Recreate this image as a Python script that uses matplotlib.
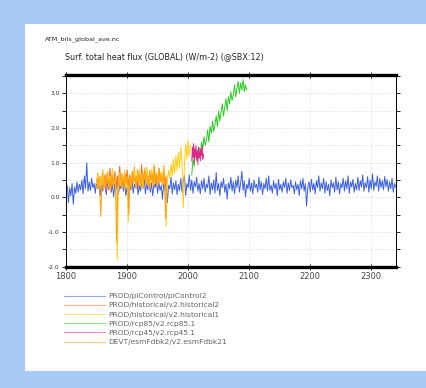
import matplotlib
matplotlib.use("Agg")
import matplotlib.pyplot as plt
from matplotlib.patches import Rectangle
from matplotlib.ticker import MultipleLocator
import numpy as np

# piControl, every 2 years 1800-2340
ctl_years = np.arange(1800, 2341, 2)
ctl_vals = [
    0.10, 0.35, -0.15, 0.28, 0.05, 0.40, -0.20, 0.30, 0.12, 0.45,
    0.15, 0.38, 0.22, 0.50, 0.10, 0.62, 0.25, 1.00, 0.18, 0.45,
    0.20, 0.55, 0.28, 0.40, 0.12, 0.48, 0.25, 0.35, 0.05, 0.42,
    0.18, 0.50, 0.30, 0.08, 0.45, 0.22, 0.55, 0.15, 0.38, 0.02,
    0.40, 0.20, 0.52, 0.10, 0.35, 0.25, 0.60, 0.18, 0.42, 0.05,
    0.30, -0.10, 0.45, 0.22, 0.55, 0.12, 0.38, 0.28, 0.50, 0.08,
    0.35, 0.18, 0.48, 0.25, 0.60, 0.10, 0.40, 0.22, 0.52, 0.15,
    0.42, 0.05, 0.38, 0.28, 0.55, 0.12, 0.45, 0.20, 0.35, -0.05,
    0.40, 0.18, 0.50, -0.15, 0.35, 0.25, 0.58, 0.10, 0.42, 0.22,
    0.48, 0.08, 0.38, 0.20, 0.55, 0.15, 0.45, 0.62, 0.05, 0.40,
    0.28, 0.65, 0.20, 0.50, 0.12, 0.45, 0.30, 0.58, 0.18, 0.40,
    0.10, 0.48, 0.25, 0.55, 0.15, 0.38, 0.28, 0.62, 0.08, 0.42,
    0.22, 0.50, 0.12, 0.72, 0.20, 0.40, 0.05, 0.45, 0.28, 0.55,
    0.15, 0.38, -0.05, 0.42, 0.25, 0.58, 0.18, 0.45, 0.10, 0.50,
    0.28, 0.62, 0.15, 0.40, 0.75, 0.20, 0.48, 0.02, 0.38, 0.25,
    0.55, 0.18, 0.42, 0.10, 0.50, 0.28, 0.38, 0.15, 0.58, 0.22,
    0.45, 0.08, 0.40, 0.25, 0.55, 0.18, 0.62, 0.20, 0.35, 0.12,
    0.48, 0.25, 0.40, 0.05, 0.52, 0.22, 0.38, 0.15, 0.45, 0.28,
    0.55, 0.12, 0.42, 0.20, 0.50, 0.28, 0.35, 0.10, 0.45, 0.22,
    0.38, 0.05, 0.48, 0.25, 0.55, 0.18, 0.40, -0.25, 0.30, 0.45,
    0.15, 0.52, 0.22, 0.40, 0.10, 0.48, 0.28, 0.62, 0.18, 0.42,
    0.25, 0.55, 0.12, 0.45, 0.20, 0.38, 0.05, 0.50, 0.28, 0.42,
    0.15, 0.58, 0.22, 0.45, 0.10, 0.40, 0.28, 0.55, 0.18, 0.48,
    0.25, 0.62, 0.12, 0.45, 0.30, 0.52, 0.15, 0.40, 0.22, 0.58,
    0.20, 0.48, 0.30, 0.65, 0.18, 0.42, 0.28, 0.60, 0.15, 0.50,
    0.25, 0.68, 0.20, 0.45, 0.32, 0.62, 0.18, 0.55, 0.28, 0.48,
    0.22, 0.60, 0.30, 0.52, 0.18, 0.45, 0.25, 0.55, 0.15, 0.40,
    0.30,
]

hist2_years = np.arange(1850, 1966, 2)
hist2_vals = [
    0.35, 0.70, 0.25, 0.60, 0.40, 0.80, 0.30, 0.65, 0.20, 0.55,
    0.45, 0.85, 0.30, 0.60, 0.38, 0.75, 0.25, 0.62, 0.48, 0.90,
    0.35, 0.68, 0.28, 0.58, 0.42, 0.80, 0.32, 0.65, 0.22, 0.70,
    0.45, 0.88, 0.35, 0.60, 0.28, 0.75, 0.40, 0.95, 0.30, 0.68,
    0.48, 0.82, 0.35, 0.62, 0.25, 0.78, 0.42, 0.90, 0.38, 0.65,
    0.30, 0.85, 0.45, 0.70, 0.35, 0.92, 0.40, 0.62,
]

hist1_years = np.arange(1850, 2006, 2)
hist1_vals = [
    0.40, 0.70, 0.25, 0.60, 0.35, 0.80, 0.30, 0.55, 0.45, 0.75,
    0.28, 0.62, 0.40, 0.85, 0.35, 0.58, 0.30, -1.80, 0.45, 0.70,
    0.32, 0.65, 0.40, 0.78, 0.28, 0.60, -0.70, 0.50, 0.35, 0.72,
    0.42, 0.85, 0.30, 0.62, 0.45, 0.80, 0.35, 0.68, 0.25, 0.75,
    0.48, 0.88, 0.38, 0.65, 0.30, 0.82, 0.45, 0.95, 0.40, 0.70,
    0.35, 0.80, 0.48, 0.72, 0.38, 0.90, 0.42, -0.85, 0.50, 0.78,
    0.55, 0.95, 0.62, 1.10, 0.70, 1.20, 0.78, 1.30, 0.85, 1.45,
    1.00, -0.30, 0.95, 1.55, 1.10, 1.65, 1.20, 1.50,
]

rcp85_years = np.arange(2006, 2097, 2)
rcp85_vals = [
    0.65, 1.10, 0.90, 1.35, 1.05, 1.30, 1.45, 1.15, 1.60, 1.40,
    1.75, 1.50, 1.65, 1.95, 1.60, 2.05, 1.85, 2.20, 1.90, 2.10,
    2.35, 2.05, 2.50, 2.20, 2.45, 2.70, 2.35, 2.60, 2.85, 2.50,
    2.90, 2.70, 3.05, 2.80, 2.95, 3.25, 2.90, 3.15, 3.35, 3.00,
    3.30, 3.10, 3.40, 3.05, 3.25, 3.10,
]

rcp45_years = np.arange(2006, 2026, 1)
rcp45_vals = [
    1.05, 1.45, 1.15, 1.55, 1.00, 1.40, 1.20, 1.50, 1.10, 1.35,
    0.95, 1.45, 1.15, 1.30, 1.05, 1.40, 1.20, 1.50, 1.10, 1.25,
]

esm_years = np.arange(1851, 1966, 2)
esm_vals = [
    0.25, 0.55, 0.35, -0.55, 0.48, 0.20, 0.62, 0.30, 0.70, 0.38,
    0.55, 0.15, 0.65, 0.32, 0.58, 0.42, -1.30, 0.50, 0.28, 0.72,
    0.35, 0.60, 0.22, 0.68, 0.40, 0.55, -0.50, 0.62, 0.30, 0.75,
    0.42, 0.58, 0.25, 0.80, 0.38, 0.65, 0.30, 0.72, 0.45, 0.85,
    0.35, 0.60, 0.28, 0.78, 0.48, 0.65, 0.32, 0.88, 0.40, 0.70,
    0.35, 0.82, 0.45, 0.62, 0.38, 0.75, -0.60, 0.55,
]

labels = [
    "PROD/piControl/piControl2",
    "PROD/historical/v2.historical2",
    "PROD/historical/v2.historical1",
    "PROD/rcp85/v2.rcp85.1",
    "PROD/rcp45/v2.rcp45.1",
    "DEVT/esmFdbk2/v2.esmFdbk21",
]
colors = ["#3b5fe3", "#ff6a1a", "#ffcc11", "#2ccc22", "#e0288c", "#ffa010"]

fig = plt.figure(figsize=(4.27, 3.88), dpi=100, facecolor="#a9c9f7")
fig.add_artist(Rectangle((25 / 427, 17 / 388), 402 / 427, 347 / 388,
                         transform=fig.transFigure, facecolor="white",
                         edgecolor="none", zorder=0))

ax = fig.add_axes([66 / 427, 121.3 / 388, 329.7 / 427, 192 / 388])

series = [
    (ctl_years, ctl_vals),
    (hist2_years, hist2_vals),
    (hist1_years, hist1_vals),
    (rcp85_years, rcp85_vals),
    (rcp45_years, rcp45_vals),
    (esm_years, esm_vals),
]
for (x, y), c in zip(series, colors):
    ax.plot(x, y, color=c, lw=0.7)

ax.set_xlim(1800, 2340)
ax.set_ylim(-2.0, 3.54)
ax.xaxis.set_major_locator(MultipleLocator(100))
ax.yaxis.set_major_locator(MultipleLocator(1.0))
ax.yaxis.set_minor_locator(MultipleLocator(0.5))
ax.yaxis.set_major_formatter(matplotlib.ticker.FormatStrFormatter("%.1f"))
ax.tick_params(axis="x", which="both", direction="inout", length=4, width=0.6,
               top=True, labelsize=6, labelcolor="#444444", pad=2)
ax.tick_params(axis="y", which="both", direction="out", length=3, width=0.6,
               right=True, labelsize=4.3, labelcolor="#333333", pad=1.5)
for s in ["top", "bottom"]:
    ax.spines[s].set_linewidth(2.4)
for s in ["left", "right"]:
    ax.spines[s].set_linewidth(0.7)
ax.grid(True, which="major", axis="x", color="#c8c8c8", lw=0.5, ls=(0, (1, 2)))
ax.grid(True, which="both", axis="y", color="#c8c8c8", lw=0.5, ls=(0, (1, 2)))

fig.text(45 / 427, 1 - 39 / 388, "ATM_bils_global_ave.nc", fontsize=4.6,
         color="#222222", va="center", ha="left")
fig.text(65 / 427, 1 - 57 / 388,
         "Surf. total heat flux (GLOBAL) (W/m-2) (@SBX:12)", fontsize=5.8,
         color="#222222", va="center", ha="left")

handles = [matplotlib.lines.Line2D([], [], color=c, lw=0.8, alpha=0.55)
           for c in colors]
leg = fig.legend(handles, labels, loc="upper left",
                 bbox_to_anchor=(64 / 427, 1 - 293 / 388), frameon=False,
                 fontsize=5.4, handlelength=5.5, handletextpad=0.4,
                 labelspacing=0.39, borderpad=0, borderaxespad=0)
for t in leg.get_texts():
    t.set_color("#666666")

fig.savefig("out.png", dpi=100, facecolor=fig.get_facecolor())
